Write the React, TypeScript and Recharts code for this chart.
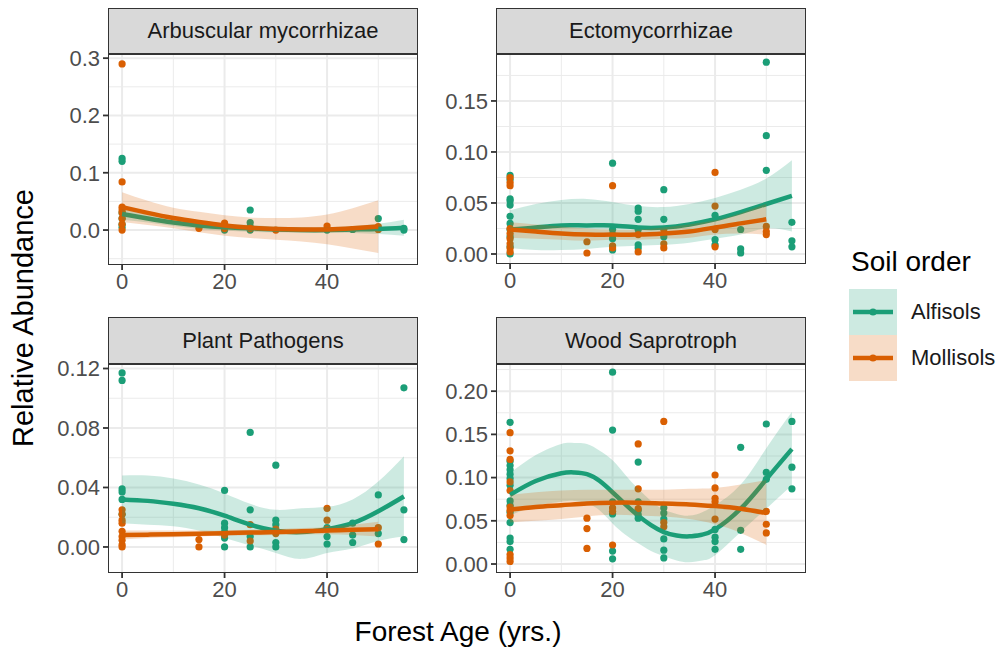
import { Area, CartesianGrid, ComposedChart, Line, Scatter, XAxis, YAxis } from "recharts";

const GREEN = "#1b9e77";
const ORANGE = "#d95f02";
const BAND_OPACITY = 0.22;

type Pt = [number, number];
type Num = number | null;

const xTicks = [0, 20, 40];
const xMinor = [10, 30, 50];
const ages = [0, 5, 10, 15, 20, 25, 30, 35, 40, 45, 50, 55];

// Arbuscular mycorrhizae
const amAlfisols: Pt[] = [
  [0, 0.125], [0, 0.12], [0, 0.03], [0, 0.02], [0, 0.01], [0, 0.005], [20, 0.006], [20, 0.0],
  [25, 0.035], [25, 0.013], [25, 0.006], [25, 0.0], [40, 0.0], [45, 0.001], [50, 0.02], [55, 0.003], [55, 0.0],
];
const amMollisols: Pt[] = [
  [0, 0.29], [0, 0.084], [0, 0.04], [0, 0.035], [0, 0.03], [0, 0.02], [0, 0.01], [0, 0.0], [15, 0.003],
  [20, 0.012], [20, 0.003], [25, 0.003], [30, 0.0], [40, 0.007], [50, 0.006], [50, 0.001],
];
const amAlfFit: Num[] = [0.028, 0.02, 0.013, 0.008, 0.005, 0.003, 0.001, 0.0, 0.0, 0.001, 0.002, 0.004];
const amAlfLo: Num[] = [0.018, 0.013, 0.007, 0.002, -0.001, -0.003, -0.004, -0.005, -0.005, -0.005, -0.007, -0.01];
const amAlfHi: Num[] = [0.038, 0.027, 0.019, 0.014, 0.011, 0.009, 0.006, 0.005, 0.005, 0.007, 0.011, 0.018];
const amMolFit: Num[] = [0.04, 0.03, 0.021, 0.014, 0.008, 0.004, 0.002, 0.001, 0.001, 0.003, 0.006, null];
const amMolLo: Num[] = [0.014, 0.009, 0.003, -0.004, -0.01, -0.014, -0.017, -0.02, -0.025, -0.032, -0.04, null];
const amMolHi: Num[] = [0.066, 0.051, 0.039, 0.032, 0.026, 0.022, 0.021, 0.022, 0.027, 0.038, 0.052, null];

// Ectomycorrhizae
const ecmAlfisols: Pt[] = [
  [0, 0.077], [0, 0.073], [0, 0.054], [0, 0.052], [0, 0.048], [0, 0.037], [0, 0.03], [0, 0.024], [0, 0.017],
  [0, 0.007], [0, 0.0], [20, 0.089], [20, 0.024], [20, 0.019], [20, 0.015], [20, 0.004], [25, 0.045],
  [25, 0.042], [25, 0.034], [25, 0.024], [25, 0.009], [25, 0.006], [30, 0.063], [30, 0.034], [30, 0.017],
  [40, 0.038], [40, 0.014], [40, 0.009], [45, 0.024], [45, 0.005], [45, 0.001], [50, 0.188], [50, 0.116],
  [50, 0.082], [55, 0.031], [55, 0.013], [55, 0.007],
];
const ecmMollisols: Pt[] = [
  [0, 0.075], [0, 0.07], [0, 0.067], [0, 0.025], [0, 0.02], [0, 0.015], [0, 0.01], [0, 0.006], [0, 0.002],
  [15, 0.012], [15, 0.001], [20, 0.067], [20, 0.008], [20, 0.006], [25, 0.019], [25, 0.002], [30, 0.024],
  [30, 0.01], [30, 0.006], [40, 0.08], [40, 0.047], [40, 0.024], [40, 0.007], [50, 0.027], [50, 0.022], [50, 0.019],
];
const ecmAlfFit: Num[] = [0.024, 0.026, 0.028, 0.028, 0.028, 0.026, 0.026, 0.029, 0.034, 0.041, 0.049, 0.057];
const ecmAlfLo: Num[] = [0.006, 0.004, 0.004, 0.005, 0.007, 0.008, 0.009, 0.011, 0.015, 0.019, 0.025, 0.022];
const ecmAlfHi: Num[] = [0.043, 0.049, 0.053, 0.054, 0.051, 0.047, 0.046, 0.049, 0.055, 0.063, 0.074, 0.092];
const ecmMolFit: Num[] = [0.024, 0.022, 0.02, 0.019, 0.019, 0.019, 0.02, 0.022, 0.026, 0.03, 0.034, null];
const ecmMolLo: Num[] = [0.016, 0.015, 0.014, 0.013, 0.014, 0.014, 0.015, 0.016, 0.019, 0.02, 0.019, null];
const ecmMolHi: Num[] = [0.031, 0.029, 0.027, 0.025, 0.024, 0.024, 0.026, 0.029, 0.033, 0.04, 0.049, null];

// Plant Pathogens
const ppAlfisols: Pt[] = [
  [0, 0.117], [0, 0.112], [0, 0.039], [0, 0.037], [0, 0.032], [0, 0.022], [20, 0.038], [20, 0.016],
  [20, 0.013], [20, 0.01], [20, 0.006], [20, 0.0], [25, 0.077], [25, 0.025], [25, 0.007], [25, 0.0],
  [30, 0.055], [30, 0.018], [30, 0.015], [30, 0.003], [30, 0.0], [40, 0.013], [40, 0.007], [40, 0.002],
  [45, 0.016], [45, 0.008], [45, 0.003], [50, 0.035], [50, 0.009], [55, 0.107], [55, 0.025], [55, 0.005],
];
const ppMollisols: Pt[] = [
  [0, 0.025], [0, 0.022], [0, 0.018], [0, 0.016], [0, 0.0105], [0, 0.007], [0, 0.0045], [0, 0.0015], [0, 0.0],
  [15, 0.005], [15, 0.0], [20, 0.008], [25, 0.015], [25, 0.004], [30, 0.012], [30, 0.009], [40, 0.026],
  [40, 0.018], [40, 0.012], [50, 0.013], [50, 0.002],
];
const ppAlfFit: Num[] = [0.032, 0.031, 0.029, 0.026, 0.021, 0.015, 0.011, 0.01, 0.012, 0.016, 0.024, 0.034];
const ppAlfLo: Num[] = [0.016, 0.015, 0.014, 0.011, 0.006, 0.001, -0.004, -0.008, -0.004, -0.001, 0.004, 0.007];
const ppAlfHi: Num[] = [0.048, 0.048, 0.046, 0.042, 0.036, 0.029, 0.025, 0.026, 0.027, 0.032, 0.044, 0.061];
const ppMolFit: Num[] = [0.008, 0.0083, 0.0086, 0.0089, 0.0093, 0.0097, 0.01, 0.0105, 0.011, 0.0115, 0.012, null];
const ppMolLo: Num[] = [0.005, 0.006, 0.0065, 0.007, 0.0075, 0.0078, 0.008, 0.0083, 0.0085, 0.008, 0.007, null];
const ppMolHi: Num[] = [0.011, 0.011, 0.011, 0.011, 0.011, 0.0116, 0.012, 0.0127, 0.0135, 0.015, 0.017, null];

// Wood Saprotroph
const wsAges = [0, 5, 10, 12.5, 15, 17.5, 20, 22.5, 25, 27.5, 30, 32.5, 35, 37.5, 40, 45, 50, 55];
const wsAlfisols: Pt[] = [
  [0, 0.164], [0, 0.119], [0, 0.114], [0, 0.109], [0, 0.104], [0, 0.099], [0, 0.091], [0, 0.073], [0, 0.068],
  [0, 0.06], [0, 0.048], [0, 0.03], [0, 0.026], [0, 0.017], [20, 0.222], [20, 0.155], [20, 0.072], [20, 0.058],
  [20, 0.015], [20, 0.006], [25, 0.118], [25, 0.072], [25, 0.062], [25, 0.057], [25, 0.053], [30, 0.065],
  [30, 0.059], [30, 0.052], [30, 0.029], [30, 0.016], [30, 0.007], [40, 0.04], [40, 0.031], [40, 0.026],
  [40, 0.017], [45, 0.135], [45, 0.039], [45, 0.017], [50, 0.162], [50, 0.106], [50, 0.098], [55, 0.165],
  [55, 0.112], [55, 0.087],
];
const wsMollisols: Pt[] = [
  [0, 0.152], [0, 0.131], [0, 0.121], [0, 0.095], [0, 0.085], [0, 0.066], [0, 0.062], [0, 0.056], [0, 0.011],
  [0, 0.007], [0, 0.003], [15, 0.053], [15, 0.041], [15, 0.018], [20, 0.065], [20, 0.061], [20, 0.022],
  [25, 0.139], [25, 0.087], [25, 0.064], [30, 0.165], [30, 0.048], [30, 0.043], [40, 0.103], [40, 0.088],
  [40, 0.076], [40, 0.072], [40, 0.052], [50, 0.061], [50, 0.046], [50, 0.036],
];
const wsAlfFit: Num[] = [0.08, 0.096, 0.105, 0.106, 0.104, 0.096, 0.083, 0.069, 0.056, 0.045, 0.037, 0.033, 0.032, 0.034, 0.04, 0.064, 0.098, 0.133];
const wsAlfLo: Num[] = [0.056, 0.067, 0.072, 0.073, 0.07, 0.062, 0.047, 0.034, 0.024, 0.015, 0.009, 0.004, 0.002, 0.004, 0.01, 0.037, 0.064, 0.091];
const wsAlfHi: Num[] = [0.105, 0.126, 0.139, 0.14, 0.139, 0.131, 0.12, 0.103, 0.087, 0.073, 0.063, 0.058, 0.056, 0.06, 0.068, 0.092, 0.134, 0.176];
const wsMolFit: Num[] = [0.063, 0.066, 0.068, null, 0.07, null, 0.071, null, 0.071, null, 0.07, null, 0.069, null, 0.067, 0.064, 0.059, null];
const wsMolLo: Num[] = [0.048, 0.05, 0.052, null, 0.055, null, 0.057, null, 0.056, null, 0.055, null, 0.052, null, 0.046, 0.036, 0.022, null];
const wsMolHi: Num[] = [0.08, 0.083, 0.085, null, 0.086, null, 0.086, null, 0.086, null, 0.086, null, 0.087, null, 0.088, 0.092, 0.097, null];

const toPoints = (pts: Pt[]) => pts.map(([x, y]) => ({ x, y }));

function curveRows(xs: number[], aFit: Num[], aLo: Num[], aHi: Num[], mFit: Num[], mLo: Num[], mHi: Num[]) {
  return xs.map((x, i) => ({
    x,
    aFit: aFit[i],
    aBand: aLo[i] == null ? null : [aLo[i], aHi[i]],
    mFit: mFit[i],
    mBand: mLo[i] == null ? null : [mLo[i], mHi[i]],
  }));
}

const YW = 70;
const XH = 42;
const PAD = 14; // room above the plot so the top tick label isn't clipped
const BORDER = "1.8px solid #333333";

const dot = (fill: string) => (p: any) => <circle cx={p.cx} cy={p.cy} r={3.6} fill={fill} />;

type PanelProps = {
  title: string;
  box: { x: number; y: number; w: number; h: number };
  stripTop: number;
  yDomain: [number, number];
  yTicks: number[];
  yMinor: number[];
  digits: number;
  alfisols: Pt[];
  mollisols: Pt[];
  curve: ReturnType<typeof curveRows>;
};

function Panel({ title, box, stripTop, yDomain, yTicks, yMinor, digits, alfisols, mollisols, curve }: PanelProps) {
  const tickStyle = { fontSize: 22, fill: "#4d4d4d" };
  const tickLine = { stroke: "#333333", strokeWidth: 1.8 };
  return (
    <>
      <div style={{ position: "absolute", left: box.x - YW, top: box.y - PAD }}>
        <ComposedChart width={box.w + YW} height={box.h + XH + PAD} data={curve} margin={{ top: PAD, right: 0, bottom: 0, left: 0 }}>
          <CartesianGrid stroke="#ebebeb" strokeWidth={1} verticalValues={xMinor} horizontalValues={yMinor} />
          <CartesianGrid stroke="#ebebeb" strokeWidth={2} verticalValues={xTicks} horizontalValues={yTicks} />
          <XAxis
            type="number"
            dataKey="x"
            domain={[-2.75, 57.75]}
            ticks={xTicks}
            interval={0}
            allowDataOverflow
            axisLine={false}
            tickSize={5}
            tickMargin={3}
            height={XH}
            tick={tickStyle}
            tickLine={tickLine}
          />
          <YAxis
            type="number"
            domain={yDomain}
            ticks={yTicks}
            interval={0}
            allowDataOverflow
            axisLine={false}
            tickSize={5}
            tickMargin={3}
            width={YW}
            tick={tickStyle}
            tickLine={tickLine}
            tickFormatter={(v: number) => v.toFixed(digits)}
          />
          <Scatter data={toPoints(alfisols)} dataKey="y" shape={dot(GREEN)} isAnimationActive={false} zIndex={50} />
          <Scatter data={toPoints(mollisols)} dataKey="y" shape={dot(ORANGE)} isAnimationActive={false} zIndex={51} />
          <Area type="natural" dataKey="aBand" stroke="none" fill={GREEN} fillOpacity={BAND_OPACITY} connectNulls isAnimationActive={false} zIndex={100} />
          <Line type="natural" dataKey="aFit" stroke={GREEN} strokeWidth={4.5} dot={false} connectNulls isAnimationActive={false} zIndex={101} />
          <Area type="natural" dataKey="mBand" stroke="none" fill={ORANGE} fillOpacity={BAND_OPACITY} connectNulls isAnimationActive={false} zIndex={102} />
          <Line type="natural" dataKey="mFit" stroke={ORANGE} strokeWidth={4.5} dot={false} connectNulls isAnimationActive={false} zIndex={103} />
        </ComposedChart>
      </div>
      <div
        style={{
          position: "absolute",
          left: box.x,
          top: stripTop,
          width: box.w,
          height: box.y - stripTop + 1.8,
          background: "#d9d9d9",
          border: BORDER,
          boxSizing: "border-box",
          display: "flex",
          alignItems: "center",
          justifyContent: "center",
          fontSize: 22,
          color: "#1a1a1a",
        }}
      >
        {title}
      </div>
      <div
        style={{
          position: "absolute",
          left: box.x,
          top: box.y,
          width: box.w,
          height: box.h,
          border: BORDER,
          boxSizing: "border-box",
          pointerEvents: "none",
        }}
      />
    </>
  );
}

function LegendKey({ top, color, label }: { top: number; color: string; label: string }) {
  return (
    <>
      <svg style={{ position: "absolute", left: 849, top }} width={48} height={46}>
        <rect x={0} y={0} width={48} height={46} fill={color} fillOpacity={BAND_OPACITY} />
        <line x1={4} x2={44} y1={23} y2={23} stroke={color} strokeWidth={4.5} />
        <circle cx={24} cy={23} r={3.6} fill={color} />
      </svg>
      <div style={{ position: "absolute", left: 911, top: top + 23, transform: "translateY(-50%)", fontSize: 22, color: "#1a1a1a" }}>
        {label}
      </div>
    </>
  );
}

export default function App() {
  return (
    <div
      style={{
        position: "absolute",
        left: 0,
        top: 0,
        width: 1008,
        height: 649,
        background: "#ffffff",
        fontFamily: "'Liberation Sans', Arial, sans-serif",
        overflow: "hidden",
      }}
    >
      <Panel
        title="Arbuscular mycorrhizae"
        box={{ x: 108, y: 53, w: 310, h: 212 }}
        stripTop={8}
        yDomain={[-0.061, 0.309]}
        yTicks={[0, 0.1, 0.2, 0.3]}
        yMinor={[-0.05, 0.05, 0.15, 0.25]}
        digits={1}
        alfisols={amAlfisols}
        mollisols={amMollisols}
        curve={curveRows(ages, amAlfFit, amAlfLo, amAlfHi, amMolFit, amMolLo, amMolHi)}
      />
      <Panel
        title="Ectomycorrhizae"
        box={{ x: 496, y: 53, w: 310, h: 211 }}
        stripTop={8}
        yDomain={[-0.0098, 0.197]}
        yTicks={[0, 0.05, 0.1, 0.15]}
        yMinor={[0.025, 0.075, 0.125, 0.175]}
        digits={2}
        alfisols={ecmAlfisols}
        mollisols={ecmMollisols}
        curve={curveRows(ages, ecmAlfFit, ecmAlfLo, ecmAlfHi, ecmMolFit, ecmMolLo, ecmMolHi)}
      />
      <Panel
        title="Plant Pathogens"
        box={{ x: 108, y: 363, w: 310, h: 210 }}
        stripTop={317}
        yDomain={[-0.0175, 0.1237]}
        yTicks={[0, 0.04, 0.08, 0.12]}
        yMinor={[0.02, 0.06, 0.1]}
        digits={2}
        alfisols={ppAlfisols}
        mollisols={ppMollisols}
        curve={curveRows(ages, ppAlfFit, ppAlfLo, ppAlfHi, ppMolFit, ppMolLo, ppMolHi)}
      />
      <Panel
        title="Wood Saprotroph"
        box={{ x: 496, y: 363, w: 310, h: 210 }}
        stripTop={317}
        yDomain={[-0.0104, 0.2326]}
        yTicks={[0, 0.05, 0.1, 0.15, 0.2]}
        yMinor={[0.025, 0.075, 0.125, 0.175, 0.225]}
        digits={2}
        alfisols={wsAlfisols}
        mollisols={wsMollisols}
        curve={curveRows(wsAges, wsAlfFit, wsAlfLo, wsAlfHi, wsMolFit, wsMolLo, wsMolHi)}
      />

      <div
        style={{
          position: "absolute",
          left: 23,
          top: 318,
          transform: "translate(-50%, -50%) rotate(-90deg)",
          fontSize: 29,
          color: "#000000",
          whiteSpace: "nowrap",
        }}
      >
        Relative Abundance
      </div>
      <div
        style={{
          position: "absolute",
          left: 458,
          top: 632,
          transform: "translate(-50%, -50%)",
          fontSize: 28,
          color: "#000000",
          whiteSpace: "nowrap",
        }}
      >
        Forest Age (yrs.)
      </div>

      <div style={{ position: "absolute", left: 851, top: 262, transform: "translateY(-50%)", fontSize: 28, color: "#000000" }}>
        Soil order
      </div>
      <LegendKey top={289} color={GREEN} label="Alfisols" />
      <LegendKey top={335} color={ORANGE} label="Mollisols" />
    </div>
  );
}
